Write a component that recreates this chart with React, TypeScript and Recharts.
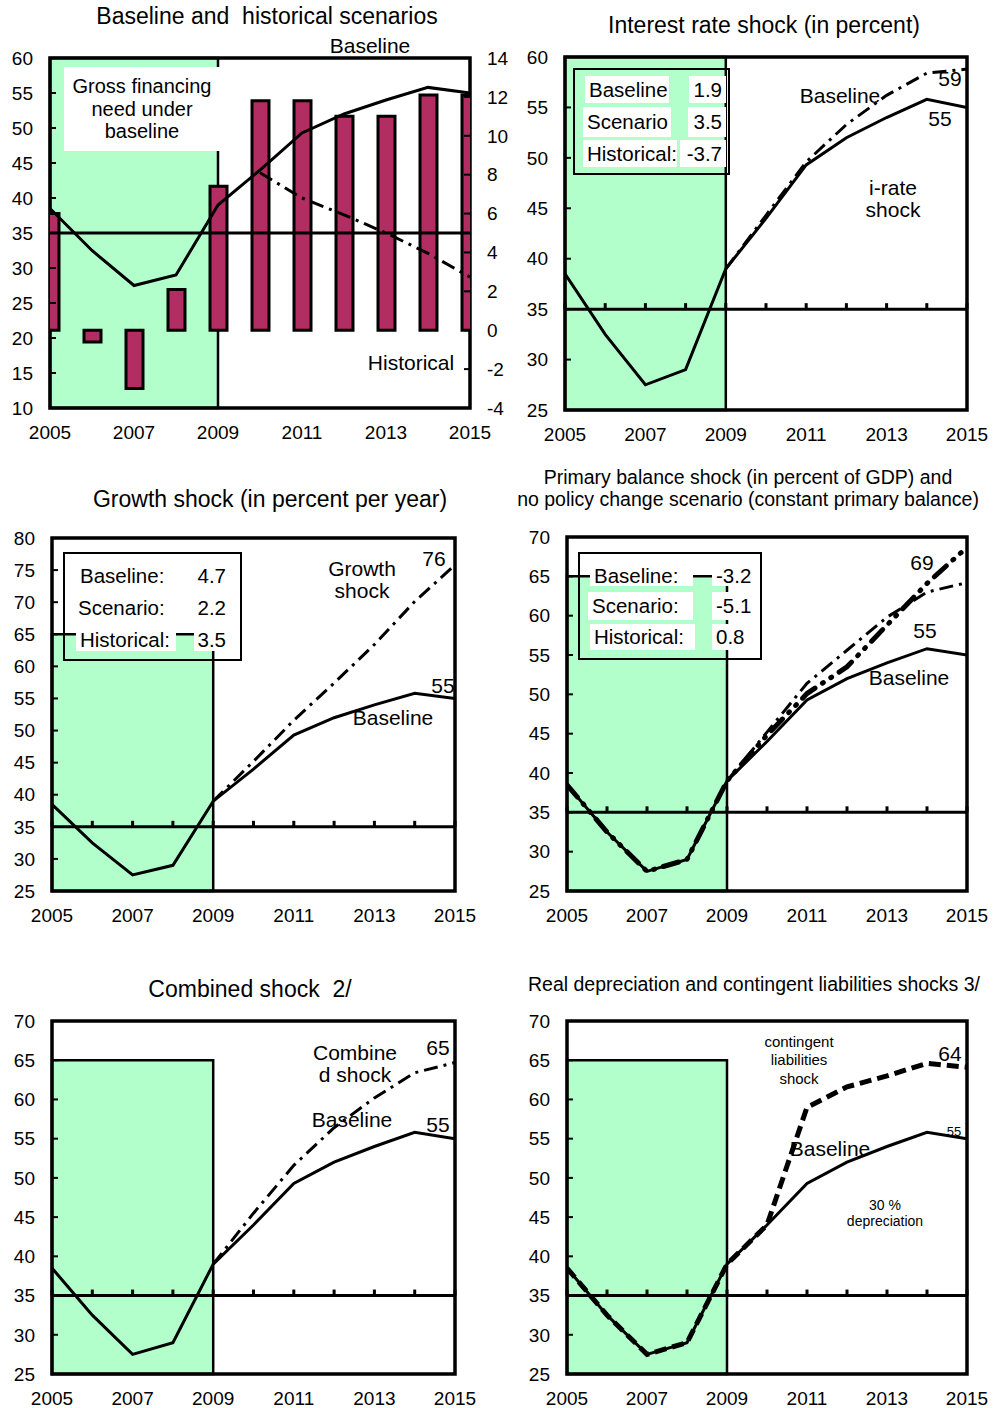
import React from "react"
import { ComposedChart, Line, Bar, XAxis, YAxis, ReferenceArea, ReferenceLine } from "recharts"

// years and tick labels
const years = [2005, 2006, 2007, 2008, 2009, 2010, 2011, 2012, 2013, 2014, 2015]
const xTicks = [2005, 2007, 2009, 2011, 2013, 2015]

// debt ratios (percent)
const baseline = [38.5, 32.5, 27.5, 29, 39, 44, 49.3, 52, 54, 55.8, 55]
const historical = [null, null, null, null, null, 43.6, 40, 37.6, 35, 32.1, 28.7]
const interestShock = [null, null, null, null, 39, 44.3, 49.6, 53.3, 56.2, 58.4, 58.8]
const growthShock = [null, null, null, null, 39, 45.2, 51.6, 57.4, 63.4, 70.1, 75.8]
const primaryShock = [null, null, null, null, 39, 45.2, 51.4, 55.6, 59.8, 63, 64.2]
const noPolicyChange = [38.5, 32.5, 27.5, 29, 39, 44.8, 50.1, 53.5, 58.8, 64.1, 68.7]
const combinedShock = [null, null, null, null, 39, 45.5, 51.6, 56.4, 60.2, 63.4, 64.7]
const contingentShock = [38.5, 32.5, 27.5, 29, 39, 44, 59, 61.6, 63, 64.6, 64.1]

// gross financing need under baseline (right axis)
const grossFinancing = [6.0, -0.6, -3.0, 2.1, 7.4, 11.8, 11.8, 11.0, 11.0, 12.1, 12.1]

// legend tables
const interestLegend = [["Baseline", "1.9"], ["Scenario", "3.5"], ["Historical:", "-3.7"]]
const growthLegend = [["Baseline:", "4.7"], ["Scenario:", "2.2"], ["Historical:", "3.5"]]
const primaryLegend = [["Baseline:", "-3.2"], ["Scenario:", "-5.1"], ["Historical:", "0.8"]]

const threshold = 35
const shadeStart = 2005
const shadeEnd = 2009
const shadeTop = 65

const rows = years.map((year, i) => ({
  year,
  baseline: baseline[i],
  historical: historical[i],
  interestShock: interestShock[i],
  growthShock: growthShock[i],
  primaryShock: primaryShock[i],
  noPolicyChange: noPolicyChange[i],
  combinedShock: combinedShock[i],
  contingentShock: contingentShock[i],
  gfn: grossFinancing[i],
}))

const range = (a: number, b: number, step: number) => {
  const out: number[] = []
  for (let v = a; v <= b; v += step) out.push(v)
  return out
}

const font = "'Liberation Sans', Arial, sans-serif"
const tickStyle = { fontSize: 19, fill: "#000" }

type Box = { x0: number; y0: number; x1: number; y1: number }

function Panel({ box, yDomain, right, yearTicks = true, bars, children }: {
  box: Box
  yDomain: [number, number]
  right?: boolean
  yearTicks?: boolean
  bars?: React.ReactNode
  children?: React.ReactNode
}) {
  const w = box.x1 - box.x0
  const h = box.y1 - box.y0
  const rightW = right ? 50 : 30
  const tickUnits = 6 / (h / (yDomain[1] - yDomain[0]))
  return (
    <div style={{ position: "absolute", left: box.x0 - 60, top: box.y0 - 40 }}>
      <ComposedChart width={w + 60 + rightW} height={h + 80} data={rows}
        margin={{ top: 40, left: 0, right: right ? 0 : 30, bottom: 10 }}>
        <XAxis dataKey="year" type="number" domain={[2005, 2015]} ticks={xTicks} interval={0}
          allowDataOverflow axisLine={false} tickLine={false} tickMargin={12} height={30} tick={tickStyle} />
        <YAxis yAxisId="left" domain={yDomain} ticks={range(yDomain[0], yDomain[1], 5)} interval={0}
          allowDataOverflow width={60} axisLine={false} tickSize={-6} tickMargin={23}
          tickLine={{ stroke: "#000", strokeWidth: 2 }} tick={tickStyle} />
        {right && (
          <YAxis yAxisId="right" orientation="right" domain={[-4, 14]} ticks={range(-4, 14, 2)} interval={0}
            allowDataOverflow width={50} axisLine={false} tickSize={-6} tickMargin={23}
            tickLine={{ stroke: "#000", strokeWidth: 2 }} tick={tickStyle} />
        )}
        <ReferenceArea yAxisId="left" x1={shadeStart} x2={shadeEnd} y1={yDomain[0]}
          y2={Math.min(shadeTop, yDomain[1])} fill="#b3ffcc" fillOpacity={1} stroke="#000" strokeWidth={2.5} />
        {bars}
        <ReferenceLine yAxisId="left" y={threshold} stroke="#000" strokeWidth={3} />
        {yearTicks && years.map((yr) => (
          <ReferenceLine key={yr} yAxisId="left" stroke="#000" strokeWidth={3}
            segment={[{ x: yr, y: threshold }, { x: yr, y: threshold + tickUnits }]} />
        ))}
        {children}
        <ReferenceArea yAxisId="left" x1={2005} x2={2015} y1={yDomain[0]} y2={yDomain[1]}
          fill="none" stroke="#000" strokeWidth={3.5} />
      </ComposedChart>
    </div>
  )
}

const solid = { stroke: "#000", strokeWidth: 3, dot: false, isAnimationActive: false, yAxisId: "left", type: "linear" as const }
const dashDot = { ...solid, strokeDasharray: "14 6 3 6" }

function T({ x, y, size = 20, anchor = "middle", children }: {
  x: number; y: number; size?: number; anchor?: "start" | "middle" | "end"; children: React.ReactNode
}) {
  const tx = anchor === "middle" ? "-50%" : anchor === "end" ? "-100%" : "0"
  return (
    <div style={{ position: "absolute", left: x, top: y, transform: `translate(${tx},-50%)`,
      fontSize: size, lineHeight: 1, whiteSpace: "pre" }}>{children}</div>
  )
}

function Cell({ l, t, w, h, align = "left", children }: {
  l: number; t: number; w: number; h: number; align?: "left" | "right"; children: React.ReactNode
}) {
  return (
    <div style={{ position: "absolute", left: l, top: t, width: w, height: h, background: "#fff",
      display: "flex", alignItems: "center", justifyContent: align === "left" ? "flex-start" : "flex-end",
      padding: "0 4px", boxSizing: "border-box", fontSize: 20.5, whiteSpace: "nowrap" }}>{children}</div>
  )
}

function Frame({ l, t, w, h }: { l: number; t: number; w: number; h: number }) {
  return <div style={{ position: "absolute", left: l, top: t, width: w, height: h, border: "2px solid #000", boxSizing: "border-box" }} />
}

export default function App() {
  return (
    <div style={{ position: "absolute", left: 0, top: 0, width: 994, height: 1408, background: "#fff", fontFamily: font, color: "#000" }}>
      {/* 1: baseline and historical */}
      <Panel box={{ x0: 50, y0: 58, x1: 470, y1: 408 }} yDomain={[10, 60]} right yearTicks={false}
        bars={<Bar yAxisId="right" dataKey="gfn" barSize={17} fill="#b22d62" stroke="#000" strokeWidth={3} isAnimationActive={false} />}>
        <Line {...solid} dataKey="baseline" />
        <Line {...dashDot} dataKey="historical" />
      </Panel>

      {/* 2: interest rate */}
      <Panel box={{ x0: 565, y0: 57, x1: 967, y1: 410 }} yDomain={[25, 60]}>
        <Line {...solid} dataKey="baseline" />
        <Line {...dashDot} dataKey="interestShock" />
      </Panel>

      {/* 3: growth */}
      <Panel box={{ x0: 52, y0: 538, x1: 455, y1: 891 }} yDomain={[25, 80]}>
        <Line {...solid} dataKey="baseline" />
        <Line {...dashDot} dataKey="growthShock" />
      </Panel>

      {/* 4: primary balance */}
      <Panel box={{ x0: 567, y0: 537, x1: 967, y1: 891 }} yDomain={[25, 70]}>
        <Line {...solid} dataKey="baseline" />
        <Line {...dashDot} dataKey="primaryShock" />
        <Line {...solid} dataKey="noPolicyChange" strokeWidth={5} strokeLinecap="round" strokeDasharray="16 9 1 9 1 9" />
      </Panel>

      {/* 5: combined */}
      <Panel box={{ x0: 52, y0: 1021, x1: 455, y1: 1374 }} yDomain={[25, 70]}>
        <Line {...solid} dataKey="baseline" />
        <Line {...dashDot} dataKey="combinedShock" />
      </Panel>

      {/* 6: depreciation / contingent liabilities */}
      <Panel box={{ x0: 567, y0: 1021, x1: 967, y1: 1374 }} yDomain={[25, 70]}>
        <Line {...solid} dataKey="baseline" />
        <Line {...solid} dataKey="contingentShock" strokeWidth={5} strokeDasharray="12 6" />
      </Panel>

      {/* titles */}
      <T x={267} y={16} size={23}>Baseline and  historical scenarios</T>
      <T x={764} y={25} size={23}>Interest rate shock (in percent)</T>
      <T x={270} y={499} size={23}>Growth shock (in percent per year)</T>
      <T x={748} y={478} size={19.5}>Primary balance shock (in percent of GDP) and</T>
      <T x={748} y={500} size={19.5}>no policy change scenario (constant primary balance)</T>
      <T x={250} y={989} size={23}>Combined shock  2/</T>
      <T x={754} y={985} size={19.5}>Real depreciation and contingent liabilities shocks 3/</T>

      {/* panel 1 notes */}
      <div style={{ position: "absolute", left: 64, top: 67, width: 156, height: 84, background: "#fff",
        display: "flex", alignItems: "center", justifyContent: "center", textAlign: "center", fontSize: 20, lineHeight: "22.5px" }}>
        Gross financing<br />need under<br />baseline
      </div>
      <T x={370} y={45} size={21}>Baseline</T>
      <T x={411} y={362} size={21}>Historical</T>

      {/* panel 2 notes */}
      <Frame l={573} t={68} w={157} h={107} />
      <Cell l={585} t={76} w={84} h={27}>{interestLegend[0][0]}</Cell>
      <Cell l={689} t={76} w={37} h={27} align="right">{interestLegend[0][1]}</Cell>
      <Cell l={583} t={107} w={88} h={30}>{interestLegend[1][0]}</Cell>
      <Cell l={688} t={107} w={38} h={30} align="right">{interestLegend[1][1]}</Cell>
      <Cell l={583} t={140} w={94} h={27}>{interestLegend[2][0]}</Cell>
      <Cell l={680} t={140} w={46} h={27} align="right">{interestLegend[2][1]}</Cell>
      <T x={840} y={95} size={21}>Baseline</T>
      <T x={950} y={78} size={21}>59</T>
      <T x={940} y={118} size={21}>55</T>
      <T x={893} y={187} size={21}>i-rate</T>
      <T x={893} y={209} size={21}>shock</T>

      {/* panel 3 notes */}
      <Frame l={63} t={552} w={179} h={109} />
      <Cell l={76} t={565} w={100} h={22}>{growthLegend[0][0]}</Cell>
      <Cell l={192} t={565} w={38} h={22} align="right">{growthLegend[0][1]}</Cell>
      <Cell l={74} t={597} w={102} h={22}>{growthLegend[1][0]}</Cell>
      <Cell l={192} t={597} w={38} h={22} align="right">{growthLegend[1][1]}</Cell>
      <Cell l={76} t={629} w={100} h={22}>{growthLegend[2][0]}</Cell>
      <Cell l={194} t={629} w={36} h={22} align="right">{growthLegend[2][1]}</Cell>
      <T x={362} y={568} size={21}>Growth</T>
      <T x={362} y={590} size={21}>shock</T>
      <T x={434} y={558} size={21}>76</T>
      <T x={443} y={685} size={21}>55</T>
      <T x={393} y={717} size={21}>Baseline</T>

      {/* panel 4 notes */}
      <Frame l={578} t={552} w={184} h={108} />
      <Cell l={590} t={566} w={103} h={20}>{primaryLegend[0][0]}</Cell>
      <Cell l={712} t={566} w={45} h={20}>{primaryLegend[0][1]}</Cell>
      <Cell l={588} t={592} w={105} h={28}>{primaryLegend[1][0]}</Cell>
      <Cell l={712} t={592} w={45} h={28}>{primaryLegend[1][1]}</Cell>
      <Cell l={590} t={624} w={105} h={26}>{primaryLegend[2][0]}</Cell>
      <Cell l={712} t={624} w={45} h={26}>{primaryLegend[2][1]}</Cell>
      <T x={922} y={562} size={21}>69</T>
      <T x={925} y={630} size={21}>55</T>
      <T x={909} y={677} size={21}>Baseline</T>

      {/* panel 5 notes */}
      <T x={355} y={1052} size={21}>Combine</T>
      <T x={355} y={1074} size={21}>d shock</T>
      <T x={438} y={1047} size={21}>65</T>
      <T x={352} y={1119} size={21}>Baseline</T>
      <T x={438} y={1124} size={21}>55</T>

      {/* panel 6 notes */}
      <T x={799} y={1041} size={15}>contingent</T>
      <T x={799} y={1059} size={15}>liabilities</T>
      <T x={799} y={1078} size={15}>shock</T>
      <T x={950} y={1053} size={21}>64</T>
      <T x={954} y={1131} size={13}>55</T>
      <T x={830} y={1148} size={21}>Baseline</T>
      <T x={885} y={1205} size={14}>30 %</T>
      <T x={885} y={1221} size={14}>depreciation</T>
    </div>
  )
}
